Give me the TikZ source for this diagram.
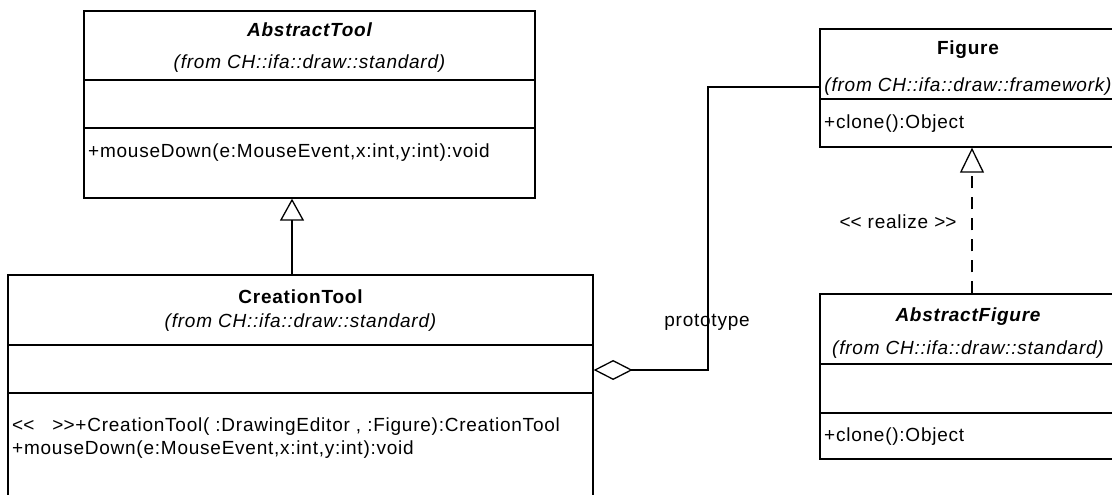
\documentclass[tikz,border=0pt]{standalone}
\usepackage{fontspec}
\newfontfamily\umlfont{Liberation Sans}[LetterSpace=4]
\usetikzlibrary{arrows.meta}

\begin{document}
\begin{tikzpicture}[x=1bp,y=-1bp,
  font=\umlfont\fontsize{19bp}{23bp}\selectfont,
  classbox/.style={draw=black, line width=1.3bp, inner sep=0pt},
  sepline/.style={draw=black, line width=1.3bp},
  conn/.style={draw=black, line width=1.3bp},
  txt/.style={inner sep=0pt, text=black},
  optxt/.style={txt, anchor=west},
  inherit/.style={conn, -{Triangle[open, length=22bp, width=24bp]}},
  realizes/.style={conn, dash pattern=on 12bp off 9bp, -{Triangle[open, length=25bp, width=24bp]}},
  aggregate/.style={conn, {Diamond[open, length=39bp, width=20bp]}-}
]
\path[use as bounding box] (0,0) rectangle (1112,495);
\clip (0,0) rectangle (1112,495);

% class boxes
\node[classbox, minimum width=451bp, minimum height=187bp] (at) at (309.5,104.5) {};
\node[classbox, minimum width=585bp, minimum height=245bp] (ct) at (300.5,397.5) {};
\node[classbox, minimum width=298bp, minimum height=118bp] (fig) at (969,88) {};
\node[classbox, minimum width=298bp, minimum height=165bp] (af) at (969,376.5) {};

% compartment separators
\draw[sepline] (at.west |- 0,80) -- (at.east |- 0,80);
\draw[sepline] (at.west |- 0,128) -- (at.east |- 0,128);
\draw[sepline] (ct.west |- 0,345) -- (ct.east |- 0,345);
\draw[sepline] (ct.west |- 0,393) -- (ct.east |- 0,393);
\draw[sepline] (fig.west |- 0,99) -- (fig.east |- 0,99);
\draw[sepline] (af.west |- 0,364) -- (af.east |- 0,364);
\draw[sepline] (af.west |- 0,413) -- (af.east |- 0,413);

% AbstractTool
\node[txt] (atname) at (309.5,30) {\bfseries\itshape AbstractTool};
\node[txt] (atpkg) at (309.5,64) {\itshape (from CH::ifa::draw::standard)};
\node[optxt] (atop) at (88,153) {+mouseDown(e:MouseEvent,x:int,y:int):void};

% CreationTool
\node[txt] (ctname) at (300.5,297) {\bfseries CreationTool};
\node[txt] (ctpkg) at (300.5,323) {\itshape (from CH::ifa::draw::standard)};
\node[optxt] (ctop1) at (12,427) {<\kern0pt<~~~>\kern0pt>+CreationTool( :DrawingEditor , :Figure):CreationTool};
\node[optxt] (ctop2) at (12,450) {+mouseDown(e:MouseEvent,x:int,y:int):void};

% Figure
\node[txt] (figname) at (968,50) {\bfseries Figure};
\node[txt] (figpkg) at (968,87) {\itshape (from CH::ifa::draw::framework)};
\node[optxt] (figop) at (824,124) {+clone():Object};

% AbstractFigure
\node[txt] (afname) at (968,317) {\bfseries\itshape AbstractFigure};
\node[txt] (afpkg) at (968,350) {\itshape (from CH::ifa::draw::standard)};
\node[optxt] (afop) at (824,437) {+clone():Object};

% relations
\draw[inherit] (ct.north -| 292,0) -- (at.south -| 292,0);
\draw[realizes] (af.north -| 972,0) -- (fig.south -| 972,0);
\draw[aggregate] (ct.north east |- 0,370) -- (708,370) |- (fig.north west |- 0,87);

% relation labels
\node[txt] (protolbl) at (707,322) {prototype};
\node[txt] (reallbl) at (898,222) {<\kern0pt< realize >\kern0pt>};
\end{tikzpicture}
\end{document}
